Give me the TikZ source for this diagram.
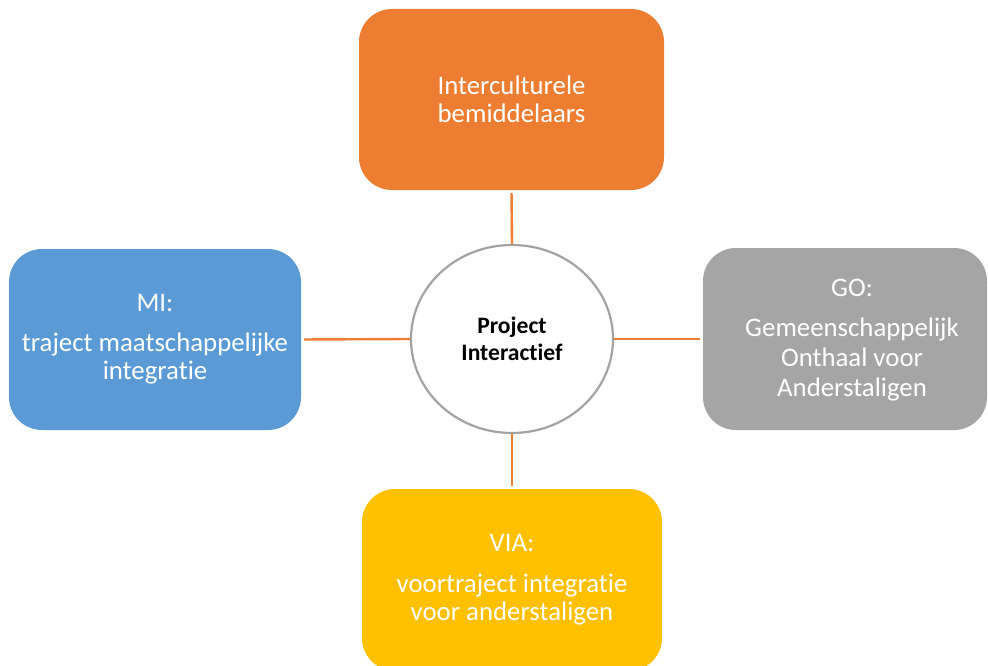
\documentclass[tikz,border=0pt]{standalone}
\usepackage{fontspec}
\setmainfont{Carlito}[Ligatures=NoCommon]
\usetikzlibrary{shapes.geometric}
\definecolor{cOrange}{HTML}{ED7D31}
\definecolor{cBlue}{HTML}{5B9BD5}
\definecolor{cGray}{HTML}{A5A5A5}
\definecolor{cYellow}{HTML}{FFC000}
\definecolor{cRing}{HTML}{A3A3A3}
\tikzset{
  box/.style={rectangle, rounded corners=33pt, inner sep=0pt, draw=none,
    text=white, align=center, font=\fontsize{26.8}{28.5}\selectfont},
  boxtext/.style={inner sep=0pt, text=white, align=center, font=\fontsize{26.8}{28.5}\selectfont},
  hub/.style={ellipse, draw=cRing, line width=2.2pt, fill=white, inner sep=0pt,
    minimum width=202pt, minimum height=188pt, align=center,
    font=\bfseries\fontsize{23.6}{26.5}\selectfont},
  conn/.style={draw=cOrange, line width=2.4pt, shorten >=3pt}
}
\begin{document}
\begin{tikzpicture}[x=1pt,y=-1pt]
\useasboundingbox (0,0) rectangle (988,666);
\fill[white] (0,0) rectangle (988,666);
\node[box, fill=cOrange, minimum width=305pt, minimum height=181pt] (ic) at (511.5,99.5)
  {Interculturele\\bemiddelaars};
\node[box, fill=cBlue, minimum width=292pt, minimum height=181pt] (mi) at (155,339.5)
  {MI:\\[11pt]traject maatschappelijke\\integratie};
\node[box, fill=cGray, minimum width=284pt, minimum height=182pt] (go) at (845,339) {};
\node[boxtext, font=\fontsize{26.8}{30}\selectfont] (gotext) at (852,340)
  {GO:\\[10pt]Gemeenschappelijk\\Onthaal voor\\Anderstaligen};
\node[box, fill=cYellow, minimum width=300pt, minimum height=182pt] (via) at (512,580)
  {VIA:\\[12pt]voortraject integratie\\voor anderstaligen};
\node[hub] (pi) at (512,339) {Project\\Interactief};
\draw[conn] (pi.north) -- (ic.south);
\draw[conn] (pi.south) -- (via.north);
\draw[conn] (pi.west) -- (mi.east);
\draw[conn] (pi.east) -- (go.west);
\end{tikzpicture}
\end{document}
